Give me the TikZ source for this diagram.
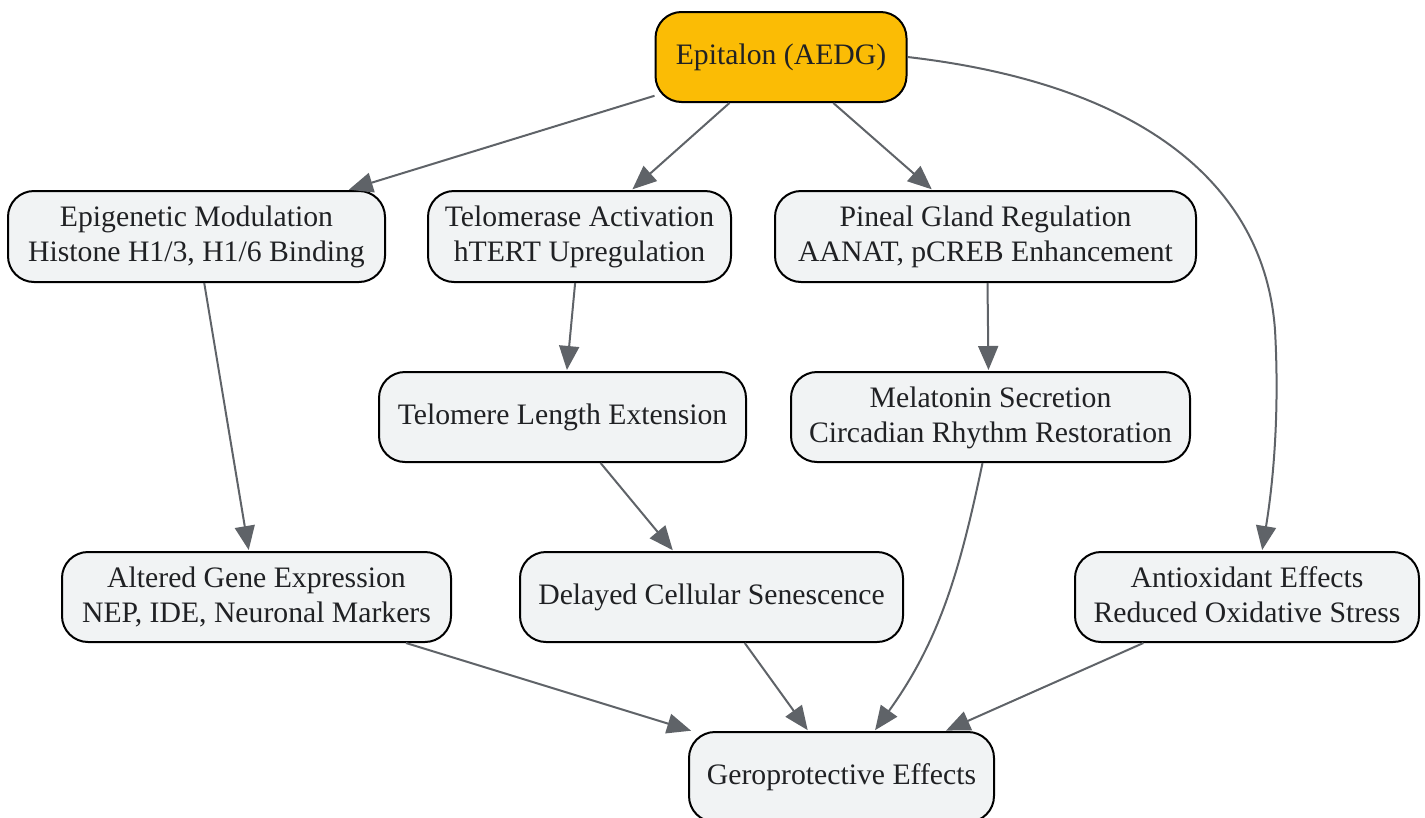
\documentclass[tikz,border=0pt]{standalone}
\usepackage{fontspec}
\setmainfont{Liberation Serif}
\usetikzlibrary{arrows.meta}
\definecolor{gold}{HTML}{FBBC05}
\definecolor{boxfill}{HTML}{F1F3F4}
\definecolor{edgecol}{HTML}{5F6368}
\definecolor{txt}{HTML}{202124}
\newcommand\stt{\rule[-0.21em]{0pt}{0.95em}}
\tikzset{
  box/.style={draw=black, line width=2pt, fill=boxfill, rounded corners=26pt,
    align=center, text=txt, inner sep=0pt,
    font=\fontsize{29.7}{35}\selectfont},
  gbox/.style={box, fill=gold},
  link/.style={draw=edgecol, line width=2pt,
    -{Triangle[length=24pt,width=20pt]}, shorten >=1pt}
}
\begin{document}
\begin{tikzpicture}[x=1pt,y=-1pt]
\useasboundingbox (0,0) rectangle (1425,817);
\node[gbox, minimum width=251pt, minimum height=90pt] (epi) at (781,57) {\stt Epitalon (AEDG)};
\node[box, minimum width=377pt, minimum height=91pt] (gen) at (196.5,236.5) {\stt Epigenetic Modulation\\\stt Histone H1/3, H1/6 Binding};
\node[box, minimum width=303pt, minimum height=91pt] (tel) at (579.5,236.5) {\stt Telomerase Activation\\\stt hTERT Upregulation};
\node[box, minimum width=421pt, minimum height=91pt] (pin) at (985.5,236.5) {\stt Pineal Gland Regulation\\\stt AANAT, pCREB Enhancement};
\node[box, minimum width=367pt, minimum height=90pt] (len) at (562.5,417) {\stt Telomere Length Extension};
\node[box, minimum width=399pt, minimum height=90pt] (mel) at (990.5,417) {\stt Melatonin Secretion\\\stt Circadian Rhythm Restoration};
\node[box, minimum width=389pt, minimum height=90pt] (alt) at (256.5,597) {\stt Altered Gene Expression\\\stt NEP, IDE, Neuronal Markers};
\node[box, minimum width=383pt, minimum height=90pt] (del) at (711.5,597) {\stt Delayed Cellular Senescence};
\node[box, minimum width=344pt, minimum height=90pt] (ant) at (1247,597) {\stt Antioxidant Effects\\\stt Reduced Oxidative Stress};
\node[box, minimum width=305pt, minimum height=90pt] (ger) at (841.5,777) {\stt Geroprotective Effects};

\draw[link] (epi) -- (gen);
\draw[link] (epi) -- (tel);
\draw[link] (epi) -- (pin);
\draw[link] (epi.east) .. controls (1150,85) and (1265,190) .. (1275,330)
  .. controls (1280,420) and (1272,490) .. ([xshift=15pt]ant.north);
\draw[link] (gen) -- (alt);
\draw[link] (tel) -- (len);
\draw[link] ([xshift=2pt]pin.south) -- ([xshift=-2pt]mel.north);
\draw[link] (len) -- (del);
\draw[link] ([xshift=-8pt]mel.south) .. controls (960,570) and (940,640) .. ([xshift=33pt]ger.north);
\draw[link] (alt) -- (ger);
\draw[link] (del) -- (ger);
\draw[link] (ant) -- (ger);
\end{tikzpicture}
\end{document}
